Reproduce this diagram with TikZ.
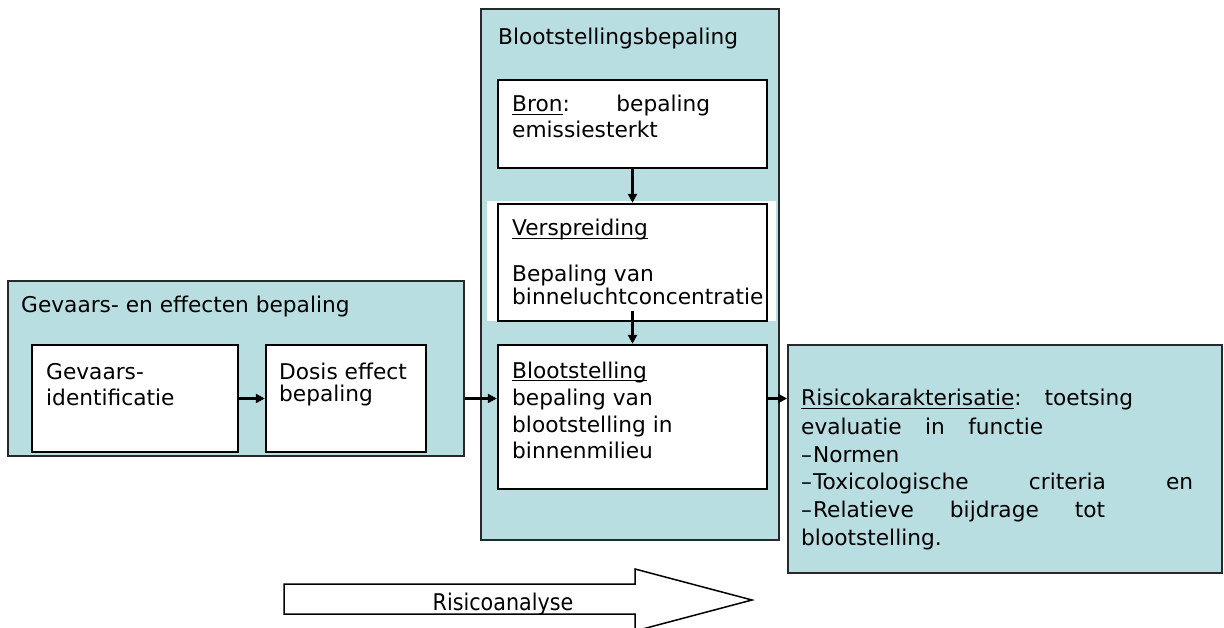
\documentclass[tikz,border=0pt]{standalone}
\usepackage{fontspec}
\setmainfont{DejaVu Sans}
\newfontfamily\condfont{DejaVu Sans Condensed}
\usetikzlibrary{arrows.meta}
% underline drawn just below the baseline
\newcommand{\undl}[1]{\setbox0=\hbox{#1}\rlap{\rule[-3.4pt]{\wd0}{1.4pt}}\box0}
\definecolor{panel}{RGB}{185,222,226}
\definecolor{frame}{RGB}{40,40,40}
\tikzset{
  panelbox/.style={draw=frame, line width=1.8pt, fill=panel},
  stepbox/.style={draw=black, line width=2.4pt, fill=white},
  txt/.style={font=\fontsize{21.7}{27}\selectfont, anchor=base west, inner sep=0pt},
  flow/.style={line width=2.4pt, -{Triangle[length=9pt,width=9pt]}},
}
\begin{document}
\begin{tikzpicture}[x=1pt,y=-1pt]
\useasboundingbox (0,0) rectangle (1224,628);

% outer panels
\node[panelbox, inner sep=0, minimum width=456pt, minimum height=175pt] (gevbox) at (236,368.5) {};
\node[panelbox, inner sep=0, minimum width=298pt, minimum height=531pt] (blootbox) at (630,274.5) {};
\node[panelbox, inner sep=0, minimum width=434pt, minimum height=228pt] (risk) at (1005,459) {};

% steps in the hazard panel
\node[stepbox, minimum width=206pt, minimum height=107pt, inner sep=0] (gevid) at (135,398.5) {};
\node[stepbox, minimum width=160pt, minimum height=107pt, inner sep=0] (dosis) at (346,398.5) {};

% steps in the exposure panel
\node[stepbox, minimum width=269pt, minimum height=88pt, inner sep=0] (bron) at (632.5,124) {};
\fill[white] (487,201) rectangle (776,321);
\node[stepbox, minimum width=269pt, minimum height=117pt, inner sep=0] (versp) at (632.5,262.5) {};
\node[stepbox, minimum width=269pt, minimum height=144pt, inner sep=0] (bloot) at (632.5,417) {};

% texts
\node[txt] (tgev) at (21,313) {Gevaars- en effecten bepaling};
\node[txt] (tgid1) at (46,379) {Gevaars-};
\node[txt] (tgid2) at (46,406) {identificatie};
\node[txt] (tdos1) at (279,379) {Dosis effect};
\node[txt] (tdos2) at (279,401) {bepaling};

\node[txt] (tbb) at (498,45) {Blootstellingsbepaling};
\node[txt] (tbron1) at (512,112) {\makebox[198pt][s]{\undl{Bron}: bepaling}};
\node[txt] (tbron2) at (512,138) {emissiesterkt};
\node[txt] (tver1) at (512,236) {\undl{Verspreiding}};
\node[txt] (tver2) at (512,282) {Bepaling van};
\node[txt] (tver3) at (512,305) {binneluchtconcentratie};
\node[txt] (tbl1) at (512,378) {\undl{Blootstelling}};
\node[txt] (tbl2) at (512,405) {bepaling van};
\node[txt] (tbl3) at (512,432) {blootstelling in};
\node[txt] (tbl4) at (512,458) {binnenmilieu};

\node[txt] (trk1) at (801,406) {\makebox[332pt][s]{\undl{Risicokarakterisatie}: toetsing}};
\node[txt] (trk2) at (801,434) {\makebox[242pt][s]{evaluatie in functie}};
\node[txt] (trk3) at (801,462) {{–}\kern1pt Normen};
\node[txt] (trk4) at (801,489) {\makebox[392pt][s]{{–}\kern1pt Toxicologische criteria en}};
\node[txt] (trk5) at (801,517) {\makebox[304pt][s]{{–}\kern1pt Relatieve bijdrage tot}};
\node[txt] (trk6) at (801,545) {blootstelling.};

% connectors
\draw[flow] (gevid.east) -- (dosis.west);
\draw[flow] (dosis.east -| gevbox.east) -- (dosis.east -| bloot.west);
\draw[flow] (bron.south) -- (versp.north);
\draw[flow] ([yshift=11pt]versp.south) -- (bloot.north);
\draw[flow] (dosis.east -| bloot.east) -- (dosis.east -| risk.west);

% process arrow
\draw[line width=1.5pt, fill=white] (284,584) -- (635,584) -- (635,569) -- (752,600)
  -- (635,631) -- (635,614) -- (284,614) -- cycle;
\node[font=\condfont\fontsize{23}{26}\selectfont, anchor=base, inner sep=0] (tra) at (503,610) {Risicoanalyse};
\end{tikzpicture}
\end{document}
